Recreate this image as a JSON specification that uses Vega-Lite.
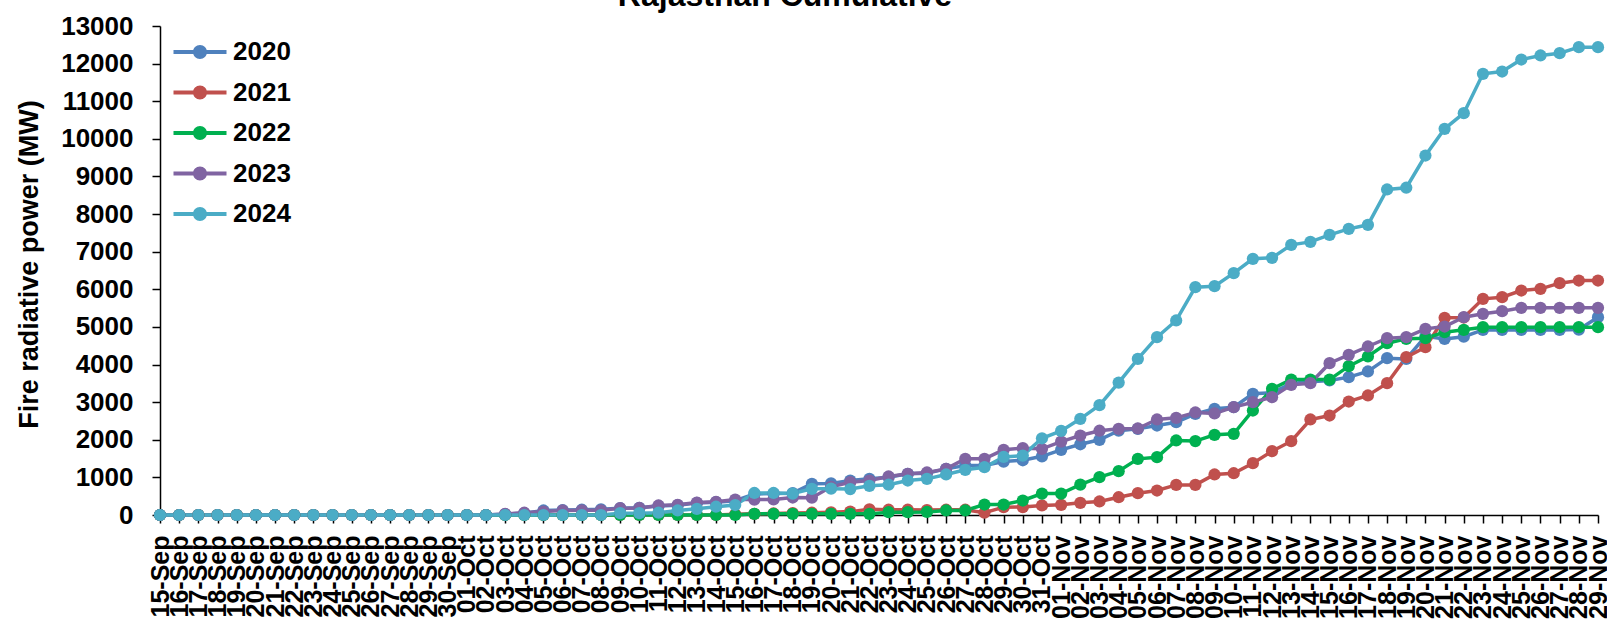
{
  "$schema": "https://vega.github.io/schema/vega-lite/v6.json",
  "autosize": {"type": "none"},
  "width": 1438,
  "height": 489,
  "padding": {"left": 160, "top": 26, "right": 9, "bottom": 122},
  "background": "white",
  "title": {"text": "Rajasthan Cumulative", "font": "Liberation Sans", "fontSize": 32, "fontWeight": "bold", "color": "black", "anchor": "middle", "frame": "group", "dx": -94, "offset": 0},
  "config": {"view": {"stroke": null}},
  "data": {"values": [
{"date":"15-Sep","2020":0,"2021":0,"2022":0,"2023":0,"2024":0},
{"date":"16-Sep","2020":0,"2021":0,"2022":0,"2023":0,"2024":0},
{"date":"17-Sep","2020":0,"2021":0,"2022":0,"2023":0,"2024":0},
{"date":"18-Sep","2020":0,"2021":0,"2022":0,"2023":0,"2024":0},
{"date":"19-Sep","2020":0,"2021":0,"2022":0,"2023":0,"2024":0},
{"date":"20-Sep","2020":0,"2021":0,"2022":0,"2023":0,"2024":0},
{"date":"21-Sep","2020":0,"2021":0,"2022":0,"2023":0,"2024":0},
{"date":"22-Sep","2020":0,"2021":0,"2022":0,"2023":0,"2024":0},
{"date":"23-Sep","2020":0,"2021":0,"2022":0,"2023":0,"2024":0},
{"date":"24-Sep","2020":0,"2021":0,"2022":0,"2023":0,"2024":0},
{"date":"25-Sep","2020":0,"2021":0,"2022":0,"2023":0,"2024":0},
{"date":"26-Sep","2020":0,"2021":0,"2022":0,"2023":0,"2024":0},
{"date":"27-Sep","2020":0,"2021":0,"2022":0,"2023":0,"2024":0},
{"date":"28-Sep","2020":0,"2021":0,"2022":0,"2023":0,"2024":0},
{"date":"29-Sep","2020":0,"2021":0,"2022":0,"2023":0,"2024":0},
{"date":"30-Sep","2020":0,"2021":0,"2022":0,"2023":0,"2024":0},
{"date":"01-Oct","2020":0,"2021":0,"2022":0,"2023":0,"2024":0},
{"date":"02-Oct","2020":0,"2021":0,"2022":0,"2023":0,"2024":0},
{"date":"03-Oct","2020":20,"2021":0,"2022":0,"2023":30,"2024":0},
{"date":"04-Oct","2020":50,"2021":0,"2022":0,"2023":60,"2024":0},
{"date":"05-Oct","2020":120,"2021":0,"2022":0,"2023":90,"2024":0},
{"date":"06-Oct","2020":130,"2021":0,"2022":0,"2023":120,"2024":0},
{"date":"07-Oct","2020":140,"2021":0,"2022":0,"2023":125,"2024":0},
{"date":"08-Oct","2020":150,"2021":0,"2022":0,"2023":125,"2024":0},
{"date":"09-Oct","2020":180,"2021":0,"2022":0,"2023":182,"2024":48},
{"date":"10-Oct","2020":190,"2021":0,"2022":0,"2023":187,"2024":48},
{"date":"11-Oct","2020":240,"2021":0,"2022":0,"2023":253,"2024":60},
{"date":"12-Oct","2020":260,"2021":0,"2022":0,"2023":270,"2024":120},
{"date":"13-Oct","2020":320,"2021":0,"2022":0,"2023":330,"2024":164},
{"date":"14-Oct","2020":340,"2021":0,"2022":0,"2023":350,"2024":220},
{"date":"15-Oct","2020":380,"2021":20,"2022":0,"2023":410,"2024":265},
{"date":"16-Oct","2020":560,"2021":30,"2022":30,"2023":410,"2024":585},
{"date":"17-Oct","2020":570,"2021":40,"2022":30,"2023":415,"2024":585},
{"date":"18-Oct","2020":580,"2021":50,"2022":30,"2023":465,"2024":570},
{"date":"19-Oct","2020":829,"2021":60,"2022":30,"2023":460,"2024":696},
{"date":"20-Oct","2020":840,"2021":70,"2022":30,"2023":750,"2024":700},
{"date":"21-Oct","2020":917,"2021":90,"2022":30,"2023":872,"2024":690},
{"date":"22-Oct","2020":961,"2021":150,"2022":30,"2023":917,"2024":775},
{"date":"23-Oct","2020":1006,"2021":140,"2022":75,"2023":1024,"2024":805},
{"date":"24-Oct","2020":1095,"2021":140,"2022":75,"2023":1095,"2024":917},
{"date":"25-Oct","2020":1111,"2021":130,"2022":80,"2023":1130,"2024":961},
{"date":"26-Oct","2020":1227,"2021":140,"2022":120,"2023":1227,"2024":1077},
{"date":"27-Oct","2020":1316,"2021":140,"2022":120,"2023":1493,"2024":1201},
{"date":"28-Oct","2020":1316,"2021":60,"2022":279,"2023":1493,"2024":1271},
{"date":"29-Oct","2020":1420,"2021":208,"2022":279,"2023":1733,"2024":1545},
{"date":"30-Oct","2020":1455,"2021":210,"2022":385,"2023":1777,"2024":1580},
{"date":"31-Oct","2020":1560,"2021":253,"2022":570,"2023":1760,"2024":2040},
{"date":"01-Nov","2020":1733,"2021":271,"2022":570,"2023":1950,"2024":2235},
{"date":"02-Nov","2020":1880,"2021":324,"2022":806,"2023":2113,"2024":2557},
{"date":"03-Nov","2020":1999,"2021":359,"2022":1006,"2023":2240,"2024":2920},
{"date":"04-Nov","2020":2240,"2021":473,"2022":1165,"2023":2290,"2024":3520},
{"date":"05-Nov","2020":2290,"2021":580,"2022":1493,"2023":2300,"2024":4152},
{"date":"06-Nov","2020":2379,"2021":651,"2022":1537,"2023":2539,"2024":4728},
{"date":"07-Nov","2020":2467,"2021":800,"2022":1981,"2023":2583,"2024":5171},
{"date":"08-Nov","2020":2690,"2021":800,"2022":1965,"2023":2725,"2024":6057},
{"date":"09-Nov","2020":2823,"2021":1077,"2022":2131,"2023":2700,"2024":6083},
{"date":"10-Nov","2020":2867,"2021":1111,"2022":2158,"2023":2867,"2024":6430},
{"date":"11-Nov","2020":3222,"2021":1377,"2022":2778,"2023":2999,"2024":6810},
{"date":"12-Nov","2020":3250,"2021":1696,"2022":3354,"2023":3132,"2024":6837},
{"date":"13-Nov","2020":3500,"2021":1962,"2022":3602,"2023":3460,"2024":7182},
{"date":"14-Nov","2020":3540,"2021":2539,"2022":3602,"2023":3504,"2024":7260},
{"date":"15-Nov","2020":3576,"2021":2645,"2022":3600,"2023":4036,"2024":7448},
{"date":"16-Nov","2020":3665,"2021":3017,"2022":3957,"2023":4258,"2024":7608},
{"date":"17-Nov","2020":3815,"2021":3177,"2022":4214,"2023":4480,"2024":7714},
{"date":"18-Nov","2020":4169,"2021":3504,"2022":4568,"2023":4701,"2024":8654},
{"date":"19-Nov","2020":4150,"2021":4195,"2022":4683,"2023":4728,"2024":8700},
{"date":"20-Nov","2020":4750,"2021":4461,"2022":4701,"2023":4949,"2024":9557},
{"date":"21-Nov","2020":4680,"2021":5242,"2022":4860,"2023":5011,"2024":10267},
{"date":"22-Nov","2020":4740,"2021":5250,"2022":4922,"2023":5259,"2024":10682},
{"date":"23-Nov","2020":4920,"2021":5747,"2022":4993,"2023":5348,"2024":11729},
{"date":"24-Nov","2020":4920,"2021":5791,"2022":4993,"2023":5419,"2024":11790},
{"date":"25-Nov","2020":4920,"2021":5968,"2022":4993,"2023":5508,"2024":12109},
{"date":"26-Nov","2020":4920,"2021":6013,"2022":4993,"2023":5508,"2024":12216},
{"date":"27-Nov","2020":4920,"2021":6163,"2022":4993,"2023":5508,"2024":12277},
{"date":"28-Nov","2020":4930,"2021":6234,"2022":4993,"2023":5508,"2024":12437},
{"date":"29-Nov","2020":5259,"2021":6234,"2022":4993,"2023":5508,"2024":12437}
  ]},
  "transform": [{"fold": ["2020", "2021", "2022", "2023", "2024"], "as": ["year", "value"]}],
  "mark": {"type": "line", "strokeWidth": 3.5, "point": {"filled": true, "size": 150, "opacity": 1}},
  "encoding": {
    "x": {
      "field": "date", "type": "nominal", "sort": null,
      "scale": {"type": "point", "padding": 0},
      "axis": {"title": null, "labelAngle": -90, "labelFont": "Liberation Sans", "labelFontSize": 25, "labelFontWeight": "bold", "labelColor": "black", "labelOverlap": false, "labelPadding": 12, "tickSize": 8, "tickColor": "black", "tickWidth": 1.5, "domainColor": "black", "domainWidth": 1.5, "grid": false}
    },
    "y": {
      "field": "value", "type": "quantitative",
      "scale": {"domain": [0, 13000], "nice": false},
      "axis": {"values": [0,1000,2000,3000,4000,5000,6000,7000,8000,9000,10000,11000,12000,13000], "format": "d", "title": "Fire radiative power (MW)", "titleFont": "Liberation Sans", "titleFontSize": 27, "titleFontWeight": "bold", "titleColor": "black", "titleX": -131, "titleY": 238, "titleAngle": -90, "titleBaseline": "middle", "titleAlign": "center", "labelFont": "Liberation Sans", "labelFontSize": 26, "labelFontWeight": "bold", "labelColor": "black", "labelPadding": 19, "tickSize": 8, "tickColor": "black", "tickWidth": 1.5, "domainColor": "black", "domainWidth": 1.5, "grid": false}
    },
    "color": {
      "field": "year", "type": "nominal",
      "scale": {"domain": ["2020", "2021", "2022", "2023", "2024"], "range": ["#4F81BD", "#C0504D", "#00B050", "#8064A2", "#4BACC6"]},
      "legend": {"orient": "none", "legendX": 20, "legendY": 6, "title": null, "padding": 0,
        "symbolType": "M-1.325,-0.1H1.325V0.1H-1.325Z M-0.35,0A0.35,0.35,0,1,1,0.35,0A0.35,0.35,0,1,1,-0.35,0Z",
        "symbolSize": 1600, "symbolStrokeWidth": 0, "labelFont": "Liberation Sans", "labelFontSize": 26, "labelFontWeight": "bold", "labelColor": "black", "labelOffset": 13, "rowPadding": 7.5,
        "encode": {"symbols": {"update": {"fill": {"scale": "color", "field": "value"}, "stroke": {"value": "transparent"}, "opacity": {"value": 1}, "fillOpacity": {"value": 1}}}}}
    }
  }
}
